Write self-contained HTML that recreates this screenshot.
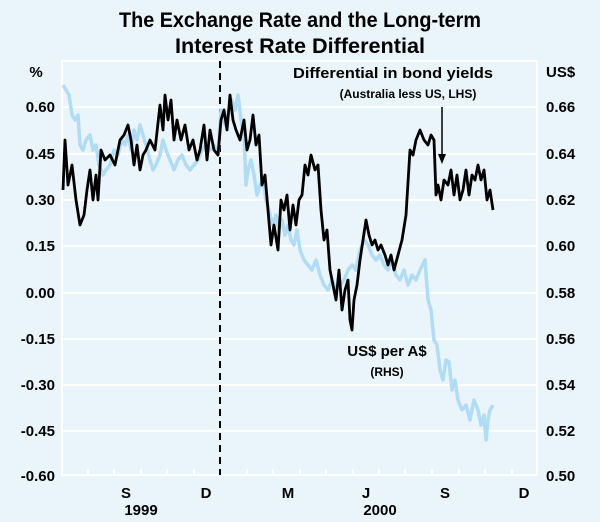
<!DOCTYPE html>
<html><head><meta charset="utf-8"><style>
body{margin:0;background:#e9f5fa;}
svg{display:block;font-family:"Liberation Sans",Arial,sans-serif;font-weight:bold;}
</style></head><body>
<svg width="600" height="522" viewBox="0 0 600 522">
<rect width="600" height="522" fill="#e9f5fa"/>
<text x="300" y="27" font-size="21" text-anchor="middle" textLength="362" lengthAdjust="spacingAndGlyphs">The Exchange Rate and the Long-term</text>
<text x="300" y="53" font-size="21" text-anchor="middle" textLength="250" lengthAdjust="spacingAndGlyphs">Interest Rate Differential</text>
<g stroke="#fff" stroke-width="2">
<line x1="62" y1="107" x2="537" y2="107"/><line x1="62" y1="154" x2="537" y2="154"/>
<line x1="62" y1="200" x2="537" y2="200"/><line x1="62" y1="246" x2="537" y2="246"/>
<line x1="62" y1="293" x2="537" y2="293"/><line x1="62" y1="339" x2="537" y2="339"/>
<line x1="62" y1="385" x2="537" y2="385"/><line x1="62" y1="431" x2="537" y2="431"/>
</g>
<rect x="62" y="61" width="475" height="414" fill="none" stroke="#fff" stroke-width="2"/>
<g stroke="#fff" stroke-width="2">
<line x1="88" y1="475" x2="88" y2="469"/><line x1="114" y1="475" x2="114" y2="469"/><line x1="141" y1="475" x2="141" y2="469"/><line x1="167" y1="475" x2="167" y2="469"/><line x1="194" y1="475" x2="194" y2="469"/><line x1="220" y1="475" x2="220" y2="469"/><line x1="247" y1="475" x2="247" y2="469"/><line x1="273" y1="475" x2="273" y2="469"/><line x1="300" y1="475" x2="300" y2="469"/><line x1="326" y1="475" x2="326" y2="469"/><line x1="353" y1="475" x2="353" y2="469"/><line x1="379" y1="475" x2="379" y2="469"/><line x1="405" y1="475" x2="405" y2="469"/><line x1="432" y1="475" x2="432" y2="469"/><line x1="459" y1="475" x2="459" y2="469"/><line x1="485" y1="475" x2="485" y2="469"/><line x1="512" y1="475" x2="512" y2="469"/>
</g>
<line x1="220" y1="61" x2="220" y2="475" stroke="#000" stroke-width="2" stroke-dasharray="7,5"/>
<polyline fill="none" stroke="#b0dcf5" stroke-width="3.5" stroke-linejoin="round" points="63,85 66,90 69,95 72,115 75,120 78,115 80,145 83,150 86,140 90,135 93,150 96,145 99,165 103,175 106,170 110,165 114,150 118,155 122,140 125,145 128,135 131,150 134,130 137,140 140,125 143,135 146,145 150,160 153,170 156,165 160,155 163,140 166,150 170,160 174,170 178,160 182,155 186,165 190,170 194,165 198,160 202,150 206,145 210,150 214,145 218,155 221,110 225,125 228,115 232,100 235,110 238,95 241,120 244,135 246,185 248,170 251,160 254,175 257,195 260,185 263,180 266,200 270,215 273,225 276,215 279,230 282,220 285,235 288,225 291,240 294,245 297,230 300,250 304,260 308,265 312,270 316,260 320,275 324,285 328,290 332,280 336,290 340,285 344,280 348,270 352,265 356,270 360,250 364,240 368,245 372,255 376,260 380,255 384,265 388,270 392,260 396,275 400,280 404,270 408,285 412,275 416,280 420,270 425,260 428,300 431,310 434,340 437,345 440,370 443,380 446,360 449,362 452,390 455,380 458,400 462,410 466,405 470,420 474,400 478,410 481,425 484,415 486,440 488,420 490,410 493,405"/>
<polyline fill="none" stroke="#000" stroke-width="2.8" stroke-linejoin="round" points="63,190 65,140 68,185 72,165 76,200 80,225 84,215 87,190 90,170 93,200 96,175 98,200 101,150 105,160 110,155 115,165 120,140 124,135 128,125 131,140 134,165 137,145 140,170 143,155 146,150 150,140 155,150 160,105 163,130 165,95 168,120 171,100 174,140 177,120 181,140 185,125 189,150 193,140 197,160 200,150 204,125 207,160 210,130 214,150 218,155 221,120 224,110 227,130 230,95 233,120 236,130 240,140 244,120 247,150 250,140 253,115 256,145 259,135 262,185 265,175 268,210 271,245 274,225 278,250 281,200 284,210 287,195 290,230 293,205 296,225 299,200 302,195 305,165 308,175 311,155 315,170 318,165 321,210 324,240 327,230 330,270 333,285 336,300 339,270 342,310 345,290 348,280 350,320 352,330 354,300 357,285 360,260 363,240 366,220 369,235 372,245 375,240 378,250 381,245 385,255 388,265 391,255 394,270 398,255 402,240 406,215 410,150 413,155 416,140 420,130 424,140 428,145 431,135 434,140 436,195 438,185 441,200 444,180 448,185 451,170 454,195 457,175 460,200 463,190 466,170 469,195 472,175 475,180 478,165 481,180 484,170 487,200 490,190 493,210"/>
<line x1="442" y1="107" x2="442" y2="160" stroke="#000" stroke-width="1.5"/>
<polygon points="438,154 446,154 442,164" fill="#000"/>
<g font-size="15">
<text x="36" y="77" text-anchor="middle">%</text>
<g text-anchor="end">
<text x="55" y="112">0.60</text><text x="55" y="159">0.45</text><text x="55" y="205">0.30</text><text x="55" y="251">0.15</text><text x="55" y="298">0.00</text><text x="55" y="344">-0.15</text><text x="55" y="390">-0.30</text><text x="55" y="436">-0.45</text><text x="55" y="481">-0.60</text>
</g>
<text x="546" y="77">US$</text>
<g>
<text x="546" y="112">0.66</text><text x="546" y="159">0.64</text><text x="546" y="205">0.62</text><text x="546" y="251">0.60</text><text x="546" y="298">0.58</text><text x="546" y="344">0.56</text><text x="546" y="390">0.54</text><text x="546" y="436">0.52</text><text x="546" y="481">0.50</text>
</g>
<g text-anchor="middle">
<text x="126" y="498">S</text><text x="206" y="498">D</text><text x="288" y="498">M</text><text x="366" y="498">J</text><text x="445" y="498">S</text><text x="524" y="498">D</text>
<text x="141" y="515">1999</text><text x="380" y="515">2000</text>
<text x="393" y="78" textLength="200" lengthAdjust="spacingAndGlyphs">Differential in bond yields</text>
<text x="387" y="356">US$ per A$</text>
</g>
</g>
<g font-size="12" text-anchor="middle">
<text x="408" y="98">(Australia less US, LHS)</text>
<text x="387" y="376">(RHS)</text>
</g>
</svg>
</body></html>
